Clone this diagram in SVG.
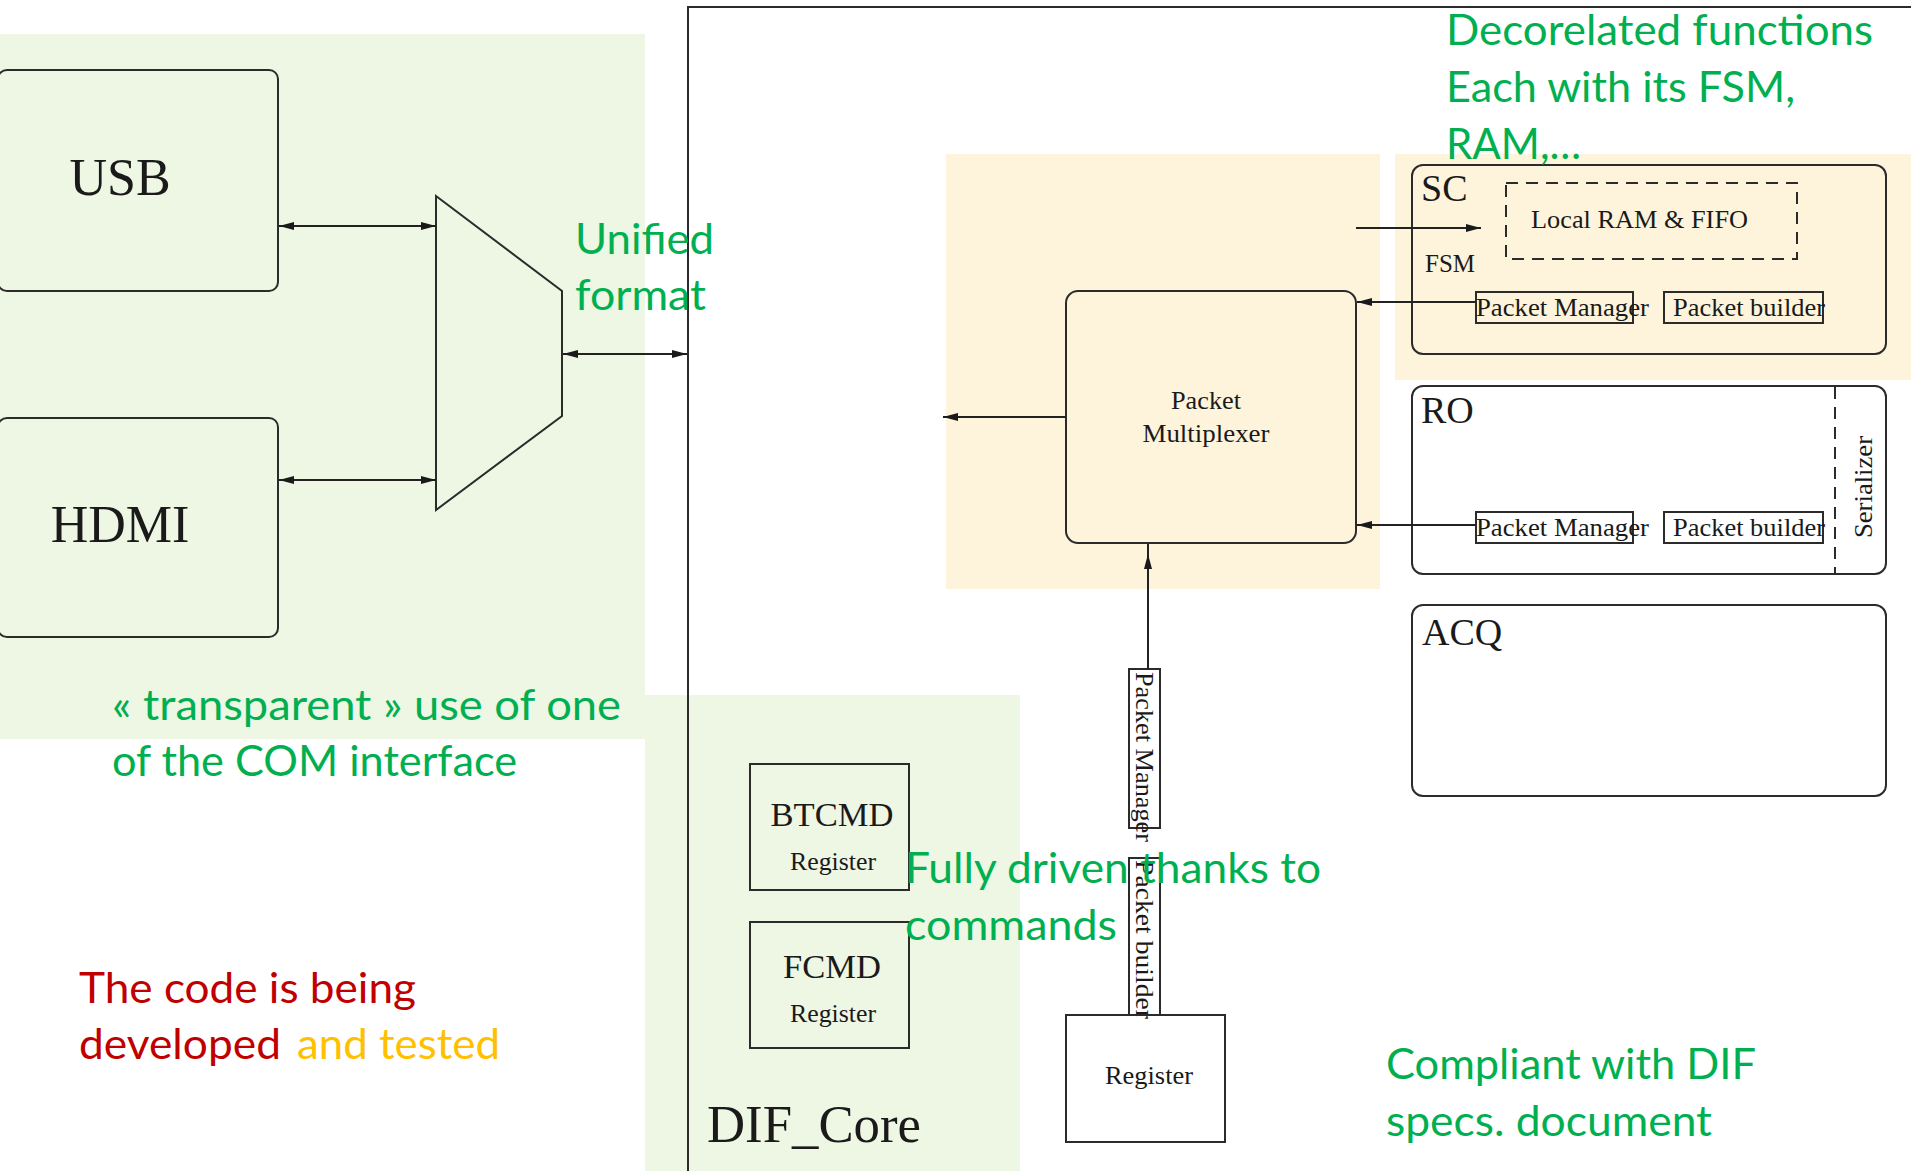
<svg xmlns="http://www.w3.org/2000/svg" width="1911" height="1171" viewBox="0 0 1911 1171">
<style>
.box{fill:none;stroke:#2b2b2b;stroke-width:2}
.ln{fill:none;stroke:#222;stroke-width:2}
.dash{fill:none;stroke:#2b2b2b;stroke-width:2;stroke-dasharray:12 8}
.ser{font-family:"Liberation Serif","Times New Roman",serif;fill:#1a1a1a}
.g{font-family:Lato,"Open Sans",sans-serif;font-size:42px;fill:#00B050}
.red{font-family:Lato,"Open Sans",sans-serif;font-size:42px;fill:#C00000}
.org{font-family:Lato,"Open Sans",sans-serif;font-size:42px;fill:#FFC000}
</style>
<defs>
<marker id="ah" viewBox="0 0 16 10" markerWidth="16" markerHeight="10" refX="15" refY="5" orient="auto-start-reverse" markerUnits="userSpaceOnUse">
<path d="M0,1 L15,5 L0,9 z" fill="#1a1a1a"/>
</marker>
<marker id="ah2" viewBox="0 0 16 10" markerWidth="16" markerHeight="10" refX="25" refY="5" orient="auto" markerUnits="userSpaceOnUse" overflow="visible">
<path d="M0,1 L15,5 L0,9 z" fill="#1a1a1a"/>
</marker>
</defs>
<rect width="1911" height="1171" fill="#fff"/>
<g id="backgrounds">
<rect x="0" y="34" width="645" height="705" fill="#EEF6E4"/>
<rect x="645" y="695" width="375" height="476" fill="#EEF6E4"/>
<rect x="946" y="154" width="434" height="435" fill="#FEF4DB"/>
<rect x="1395" y="154" width="516" height="226" fill="#FEF4DB"/>
</g>
<g id="dif-core-frame">
<path class="box" d="M688,1171 L688,7 L1911,7"/>
<text class="ser" x="707" y="1142" font-size="52" textLength="214" lengthAdjust="spacingAndGlyphs">DIF_Core</text>
</g>
<g id="usb">
<rect class="box" x="-2" y="70" width="280" height="221" rx="9"/>
<text class="ser" x="120" y="195" font-size="52" text-anchor="middle">USB</text>
</g>
<g id="hdmi">
<rect class="box" x="-2" y="418" width="280" height="219" rx="9"/>
<text class="ser" x="120" y="542" font-size="52" text-anchor="middle">HDMI</text>
</g>
<g id="mux">
<polygon class="box" points="436,196 562,291 562,416 436,510"/>
</g>
<g id="packet-multiplexer">
<rect class="box" x="1066" y="291" width="290" height="252" rx="12"/>
<text class="ser" x="1206" y="409" font-size="25" text-anchor="middle" textLength="70" lengthAdjust="spacingAndGlyphs">Packet</text>
<text class="ser" x="1206" y="442" font-size="25" text-anchor="middle" textLength="127" lengthAdjust="spacingAndGlyphs">Multiplexer</text>
</g>
<g id="sc">
<rect class="box" x="1412" y="165" width="474" height="189" rx="11"/>
<text class="ser" x="1421" y="201" font-size="38">SC</text>
<rect class="dash" x="1506" y="183" width="291" height="76"/>
<text class="ser" x="1531" y="228" font-size="25" textLength="217" lengthAdjust="spacingAndGlyphs">Local RAM &amp; FIFO</text>
<text class="ser" x="1425" y="272" font-size="25" textLength="50" lengthAdjust="spacingAndGlyphs">FSM</text>
<rect class="box" x="1476" y="292" width="157" height="31"/>
<text class="ser" x="1476" y="316" font-size="26" textLength="173" lengthAdjust="spacingAndGlyphs">Packet Manager</text>
<rect class="box" x="1664" y="292" width="159" height="31"/>
<text class="ser" x="1673" y="316" font-size="26" textLength="152" lengthAdjust="spacingAndGlyphs">Packet builder</text>
</g>
<g id="ro">
<rect class="box" x="1412" y="386" width="474" height="188" rx="11"/>
<text class="ser" x="1421" y="423" font-size="38">RO</text>
<line class="dash" x1="1835" y1="387" x2="1835" y2="573"/>
<text class="ser" transform="translate(1872,487) rotate(-90)" x="0" y="0" font-size="26" text-anchor="middle" textLength="102" lengthAdjust="spacingAndGlyphs">Serializer</text>
<rect class="box" x="1476" y="512" width="157" height="31"/>
<text class="ser" x="1476" y="536" font-size="26" textLength="173" lengthAdjust="spacingAndGlyphs">Packet Manager</text>
<rect class="box" x="1664" y="512" width="159" height="31"/>
<text class="ser" x="1673" y="536" font-size="26" textLength="152" lengthAdjust="spacingAndGlyphs">Packet builder</text>
</g>
<g id="acq">
<rect class="box" x="1412" y="605" width="474" height="191" rx="11"/>
<text class="ser" x="1422" y="645" font-size="38">ACQ</text>
</g>
<g id="btcmd">
<rect class="box" x="750" y="764" width="159" height="126"/>
<text class="ser" x="832" y="826" font-size="33" text-anchor="middle" textLength="123" lengthAdjust="spacingAndGlyphs">BTCMD</text>
<text class="ser" x="833" y="870" font-size="25" text-anchor="middle" textLength="86" lengthAdjust="spacingAndGlyphs">Register</text>
</g>
<g id="fcmd">
<rect class="box" x="750" y="922" width="159" height="126"/>
<text class="ser" x="832" y="978" font-size="33" text-anchor="middle" textLength="98" lengthAdjust="spacingAndGlyphs">FCMD</text>
<text class="ser" x="833" y="1022" font-size="25" text-anchor="middle" textLength="86" lengthAdjust="spacingAndGlyphs">Register</text>
</g>
<g id="v-packet-manager">
<rect class="box" x="1129" y="669" width="31" height="159"/>
<text class="ser" transform="translate(1136,672) rotate(90)" x="0" y="0" font-size="26" textLength="170" lengthAdjust="spacingAndGlyphs">Packet Manager</text>
</g>
<g id="v-packet-builder">
<rect class="box" x="1129" y="858" width="31" height="157"/>
<text class="ser" transform="translate(1136,860) rotate(90)" x="0" y="0" font-size="26" textLength="159" lengthAdjust="spacingAndGlyphs">Packet builder</text>
</g>
<g id="register">
<rect class="box" x="1066" y="1015" width="159" height="127"/>
<text class="ser" x="1149" y="1084" font-size="25" text-anchor="middle" textLength="88" lengthAdjust="spacingAndGlyphs">Register</text>
</g>
<g id="connectors">
<line class="ln" x1="279" y1="226" x2="436" y2="226" marker-start="url(#ah)" marker-end="url(#ah)"/>
<line class="ln" x1="279" y1="480" x2="436" y2="480" marker-start="url(#ah)" marker-end="url(#ah)"/>
<line class="ln" x1="563" y1="354" x2="687" y2="354" marker-start="url(#ah)" marker-end="url(#ah)"/>
<line class="ln" x1="1066" y1="417" x2="943" y2="417" marker-end="url(#ah)"/>
<line class="ln" x1="1476" y1="302" x2="1357" y2="302" marker-end="url(#ah)"/>
<line class="ln" x1="1356" y1="228" x2="1481" y2="228" marker-end="url(#ah)"/>
<line class="ln" x1="1476" y1="525" x2="1357" y2="525" marker-end="url(#ah)"/>
<line class="ln" x1="1148" y1="669" x2="1148" y2="544" marker-end="url(#ah2)"/>
</g>
<g id="annotations">
<text class="g" x="575" y="254" textLength="139" lengthAdjust="spacingAndGlyphs">Unified</text>
<text class="g" x="575" y="310" textLength="131" lengthAdjust="spacingAndGlyphs">format</text>
<text class="g" x="1446" y="45" textLength="427" lengthAdjust="spacingAndGlyphs">Decorelated functions</text>
<text class="g" x="1446" y="102" textLength="349" lengthAdjust="spacingAndGlyphs">Each with its FSM,</text>
<text class="g" x="1446" y="159" textLength="135" lengthAdjust="spacingAndGlyphs">RAM,…</text>
<text class="g" x="112" y="720" textLength="509" lengthAdjust="spacingAndGlyphs">« transparent » use of one</text>
<text class="g" x="112" y="776" textLength="405" lengthAdjust="spacingAndGlyphs">of the COM interface</text>
<text class="g" x="905" y="883" textLength="416" lengthAdjust="spacingAndGlyphs">Fully driven thanks to</text>
<text class="g" x="905" y="940" textLength="212" lengthAdjust="spacingAndGlyphs">commands</text>
<text class="g" x="1386" y="1079" textLength="370" lengthAdjust="spacingAndGlyphs">Compliant with DIF</text>
<text class="g" x="1386" y="1136" textLength="326" lengthAdjust="spacingAndGlyphs">specs. document</text>
<text class="red" x="79" y="1003" textLength="337" lengthAdjust="spacingAndGlyphs">The code is being</text>
<text class="red" x="79" y="1059" textLength="202" lengthAdjust="spacingAndGlyphs">developed</text>
<text class="org" x="297" y="1059" textLength="203" lengthAdjust="spacingAndGlyphs">and tested</text>
</g>
</svg>
